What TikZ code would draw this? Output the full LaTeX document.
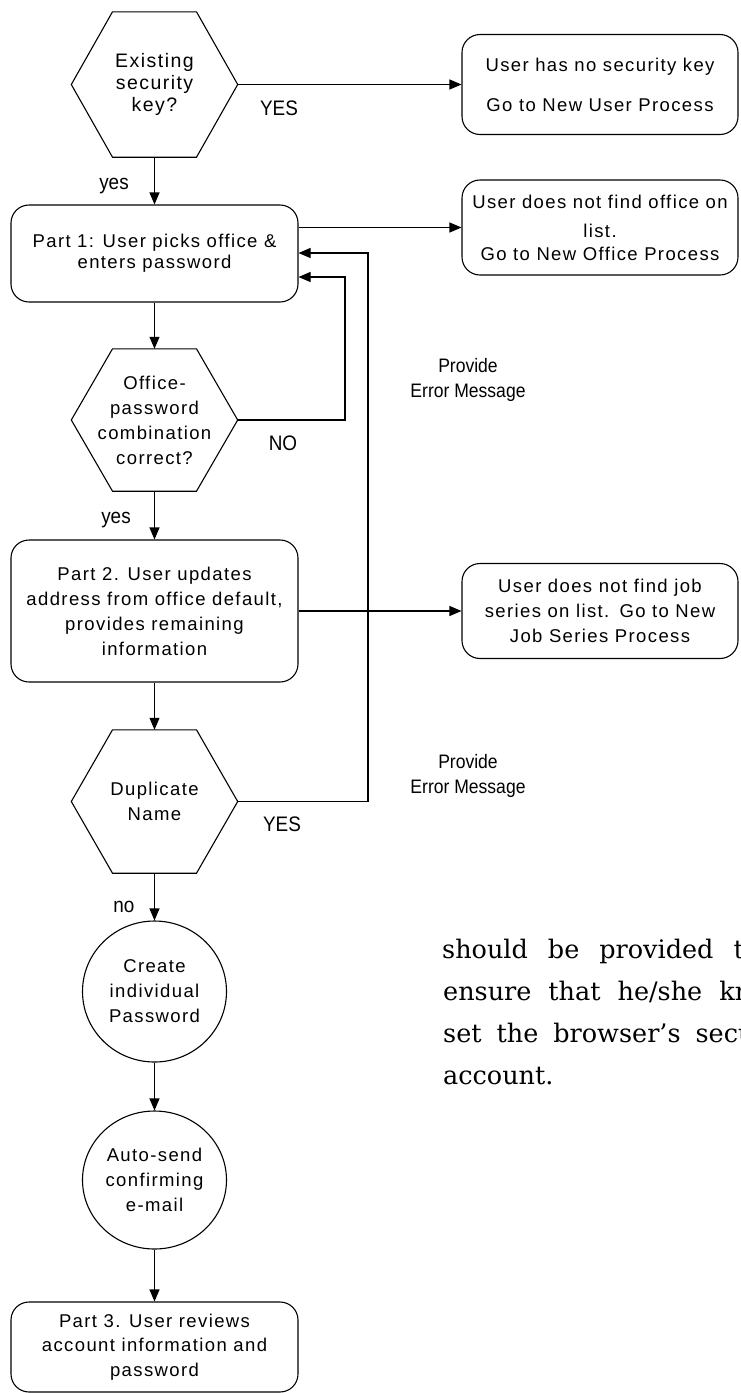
\documentclass[tikz,border=0pt]{standalone}
\usepackage{fontspec}
\usetikzlibrary{arrows.meta,shapes.geometric,calc}
\newfontfamily\flowfont[LetterSpace=7.5]{Liberation Sans}
\newfontfamily\labelfont[FakeStretch=0.9]{Liberation Sans}
\newfontfamily\bodyfont{DejaVu Serif}
\newcommand\hexoutline[1]{\draw[lw] (#1.west) -- ([xshift=-42pt]#1.north) -- ([xshift=42pt]#1.north) -- (#1.east) -- ([xshift=42pt]#1.south) -- ([xshift=-42pt]#1.south) -- cycle;}
\begin{document}
\begin{tikzpicture}[x=1pt,y=-1pt,
  lw/.style={line width=1.1pt},
  txt/.style={font=\flowfont\fontsize{18.5}{25}\selectfont, align=center, inner sep=0pt},
  rbox/.style={txt, draw, lw, rounded corners=18pt, minimum width=287pt},
  nbox/.style={txt, draw, lw, rounded corners=18pt, minimum width=276pt},
  hexnode/.style={txt, minimum width=166pt},
  circ/.style={txt, draw, lw, ellipse, minimum width=144pt},
  arr/.style={lw, -{Triangle[length=12pt,width=10pt]}},
  lab/.style={font=\labelfont\fontsize{19.5}{25}\selectfont, align=center, inner sep=0pt},
  yn/.style={font=\labelfont\fontsize{21}{25}\selectfont, inner sep=0pt},
  body/.style={font=\bodyfont\fontsize{25.5}{30}\selectfont, anchor=base west, inner sep=0pt}
]
\useasboundingbox (0,0) rectangle (740,1393);
\clip (0,0) rectangle (740,1393);

% main column
\node[hexnode, minimum height=145pt, font=\flowfont\fontsize{19.5}{22}\selectfont] (hexA) at (154.5,84.5) {Existing\\security\\key?};
\hexoutline{hexA}
\node[nbox, minimum height=100pt] (n1) at (600,84.5) {User has no security key\\[15pt]Go to New User Process};
\node[rbox, minimum height=97pt, font=\flowfont\fontsize{18.5}{21}\selectfont] (p1) at (154.5,253.5) {Part 1: User picks office \&\\enters password};
\node[nbox, minimum height=95pt] (n2) at (600,227.5) {User does not find office on\\[4pt]list.\\[-2pt]Go to New Office Process};
\node[hexnode, minimum height=142pt] (hexB) at (154.5,420) {Office-\\password\\combination\\correct?};
\hexoutline{hexB}
\node[rbox, minimum height=142pt] (p2) at (154.5,611) {Part 2. User updates\\address from office default,\\provides remaining\\information};
\node[nbox, minimum height=95pt] (n3) at (600,611) {User does not find job\\series on list.\hspace{0.55em}Go to New\\Job Series Process};
\node[hexnode, minimum height=143pt] (hexC) at (154.5,801.5) {Duplicate\\Name};
\hexoutline{hexC}
\node[circ, minimum height=141pt] (c1) at (154.5,991.5) {Create\\individual\\Password};
\node[circ, minimum height=138pt] (c2) at (154.5,1180) {Auto-send\\confirming\\e-mail};
\node[rbox, minimum height=90pt, font=\flowfont\fontsize{18.5}{24.5}\selectfont] (p3) at (154.5,1347) {Part 3. User reviews\\account information and\\password};

% connectors
\draw[arr] (hexA.east) -- (n1.west);
\draw[arr] (hexA.south) -- (p1.north);
\draw[arr] (p1.east |- n2.west) -- (n2.west);
\draw[arr] (p1.south) -- (hexB.north);
\coordinate (loopB) at (345,277);
\draw[arr] (hexB.east) -| (loopB) -- (loopB -| p1.east);
\draw[arr] (hexB.south) -- (p2.north);
\draw[arr] (p2.east |- n3.west) -- (n3.west);
\draw[arr] (p2.south) -- (hexC.north);
\coordinate (loopC) at (368,253);
\draw[arr] (hexC.east) -| (loopC) -- (loopC -| p1.east);
\draw[arr] (hexC.south) -- (c1.north);
\draw[arr] (c1.south) -- (c2.north);
\draw[arr] (c2.south) -- (p3.north);

% labels
\node[yn] (yesA) at (114,186) {yes};
\node[yn] (yesupA) at (279,108) {YES};
\node[yn] (noB) at (283,443) {NO};
\node[lab] (err1) at (468,380) {Provide\\Error Message};
\node[yn] (yesB) at (116,520) {yes};
\node[yn] (yesupC) at (282,824) {YES};
\node[lab] (err2) at (468,776) {Provide\\Error Message};
\node[yn] (noC) at (124,907) {no};

% surrounding page text
\node[body] (l1) at (442,958) {\spaceskip=20pt plus 0pt\relax should be provided to};
\node[body] (l2) at (443,1000) {\spaceskip=17pt plus 0pt\relax ensure that he/she kn};
\node[body] (l3) at (443,1042) {\spaceskip=15pt plus 0pt\relax set the browser’s secu};
\node[body] (l4) at (443,1084) {account.};
\end{tikzpicture}
\end{document}
